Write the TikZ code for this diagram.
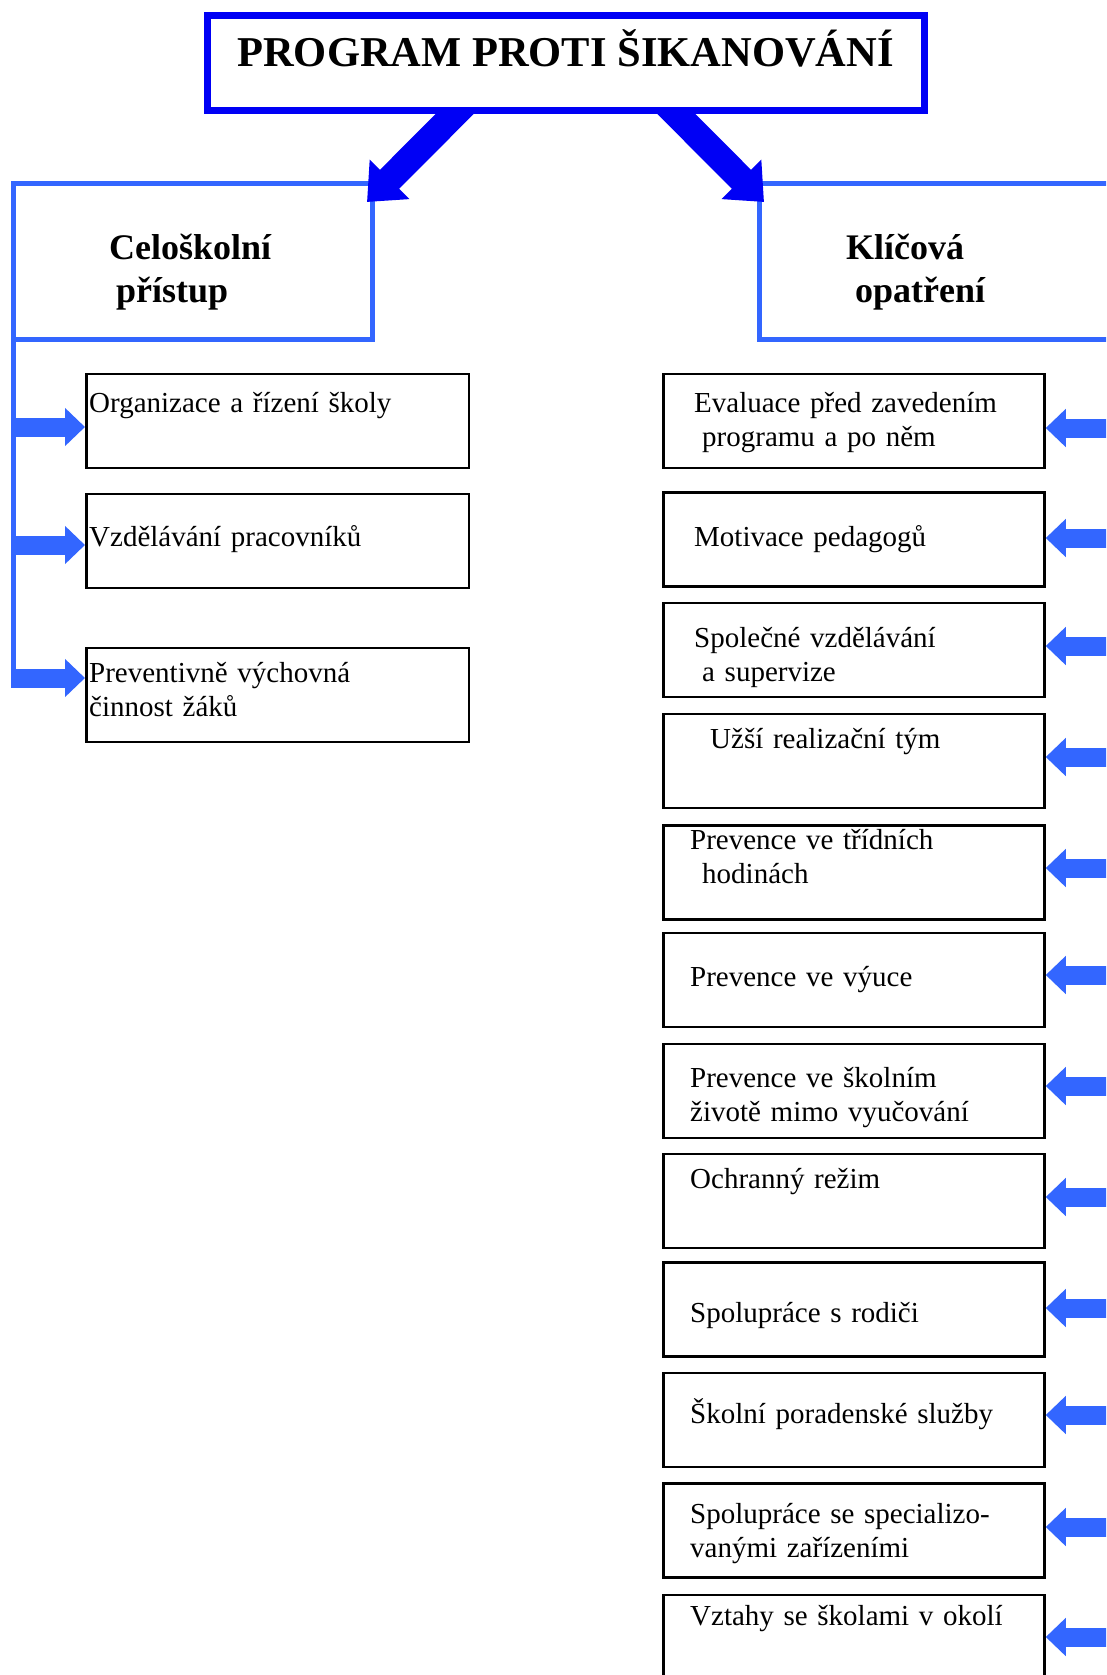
\documentclass[tikz,border=0pt]{standalone}
\usepackage{fontspec}
\setmainfont{Liberation Serif}
\usetikzlibrary{arrows.meta,backgrounds}
\definecolor{lblue}{RGB}{51,102,255}
\definecolor{dblue}{RGB}{0,0,245}
\tikzset{
  titlebox/.style={draw=dblue, line width=7pt, fill=white, minimum width=717pt,
    minimum height=95pt, inner sep=0pt, text height=32pt, text depth=25pt,
    font=\fontsize{42.5}{50}\selectfont\bfseries},
  panel/.style={draw=lblue, line width=5pt, minimum height=156pt, inner sep=0pt},
  headtxt/.style={anchor=base west, inner sep=0pt, text width=300pt, align=left,
    font=\fontsize{36}{43}\selectfont\bfseries},
  sbox/.style={draw, line width=2.5pt, minimum height=94pt, inner sep=0pt},
  btxt/.style={anchor=base west, inner sep=0pt, text width=370pt, align=left,
    font=\fontsize{29}{34}\selectfont},
  bigarr/.style={dblue, line width=27pt, -{Triangle[length=32pt,width=54pt]}},
  smallarr/.style={lblue, line width=19pt, -{Triangle[length=20pt,width=37pt]}},
}
\begin{document}
\begin{tikzpicture}[x=1pt, y=-1pt]
\path[use as bounding box, clip] (0,0) rectangle (1106,1675);

% title
\node[titlebox] (title) at (565.5,63.5) {PROGRAM PROTI ŠIKANOVÁNÍ};

\begin{scope}[on background layer]
  \clip (0,0) rectangle (1106,1675);
  \node[panel, minimum width=359pt] (pl) at (192.5,261) {};
  \node[panel, minimum width=450pt] (pr) at (984,261) {};
  \draw[bigarr] ([shift={(-93,-18.5)}]title.south) -- ([shift={(-7.5,21.5)}]pl.north east);
  \draw[bigarr] ([shift={(93,-18.5)}]title.south) -- ([shift={(7.5,21.5)}]pr.north west);
\end{scope}

\node[headtxt] (hl) at (109,259) {Celoškolní\\\hspace*{7pt}přístup};
\node[headtxt] (hr) at (846,259) {Klíčová\\\hspace*{9pt}opatření};

% left column
\coordinate (trunkend) at (13,687.5);
\draw[lblue, line width=5pt] ([shift={(2.5,-2.5)}]pl.south west) -- (trunkend);
\foreach \n/\cy/\ay/\ty/\txt in {
  o1/421/427/412/{Organizace a řízení školy},
  o2/541/545/546/{Vzdělávání pracovníků},
  o3/695/678/682/{Preventivně výchovná\\činnost žáků}}{
  \node[sbox, minimum width=382.5pt] (\n) at (277.5,\cy) {};
  \node[btxt] (\n-t) at (89,\ty) {\txt};
  \coordinate (\n-a) at (13,\ay);
  \draw[smallarr] (\n-a) -- (\n.west |- \n-a);
}

% right column
\foreach \n/\cy/\ay/\tx/\ty/\txt in {
  k1/421/428/694/412/{Evaluace před zavedením\\\hspace*{8pt}programu a po něm},
  k2/539.5/538/694/546/{Motivace pedagogů},
  k3/650/646/694/647/{Společné vzdělávání\\\hspace*{8pt}a supervize},
  k4/761/757/710/748/{Užší realizační tým},
  k5/872.5/868/690/849/{Prevence ve třídních\\\hspace*{12pt}hodinách},
  k6/980/975/690/986/{Prevence ve výuce},
  k7/1091/1086/690/1087/{Prevence ve školním\\životě mimo vyučování},
  k8/1201/1197/690/1188/{Ochranný režim},
  k9/1309.5/1308/690/1322/{Spolupráce s rodiči},
  k10/1420/1415/690/1423/{Školní poradenské služby},
  k11/1530.5/1527/690/1523/{Spolupráce se specializo-\\vanými zařízeními},
  k12/1642/1637/690/1625/{Vztahy se školami v okolí}}{
  \node[sbox, minimum width=381pt] (\n) at (854,\cy) {};
  \node[btxt] (\n-t) at (\tx,\ty) {\txt};
  \coordinate (\n-a) at (1120,\ay);
  \draw[smallarr] (\n-a) -- (\n.east |- \n-a);
}
\end{tikzpicture}
\end{document}
